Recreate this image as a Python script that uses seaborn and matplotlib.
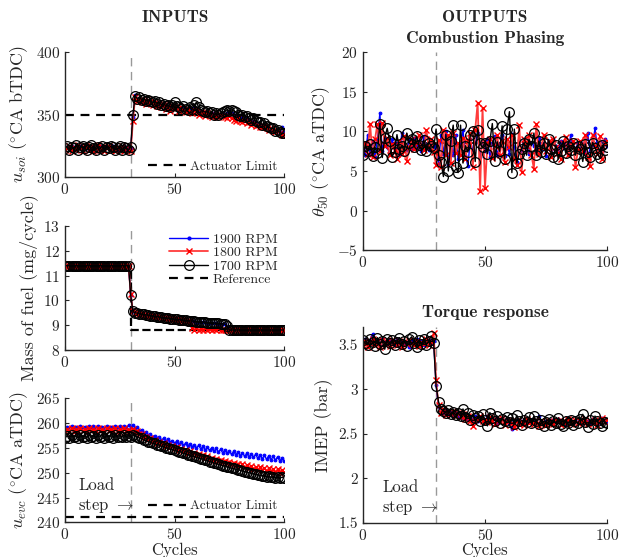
import numpy as np
import matplotlib
matplotlib.use("Agg")
import matplotlib.pyplot as plt
import seaborn as sns
from matplotlib.lines import Line2D

# cycles 0..100, load step at cycle 30
cycles = list(range(101))
load_step = 30

##### u_soi (deg CA bTDC)
soi_1700 = [323,325,322,324,323,326,322,324,325,323,
            322,324,326,323,322,324,323,325,322,324,
            323,325,324,322,323,325,322,324,323,322,
            324,350,365,363,364,362,363,361,362,361,
            360,361,359,360,358,359,357,358,356,358,
            360,357,356,355,357,355,354,356,355,358,
            360,356,354,353,352,353,351,352,350,351,
            350,351,352,353,354,353,354,353,352,350,
            349,350,348,349,347,346,347,345,344,344,
            342,343,341,340,339,339,337,338,336,335,335]
soi_1800 = [322,323,325,321,324,322,326,323,321,325,
            324,322,325,321,323,326,322,324,321,323,
            325,322,323,321,324,322,325,321,323,322,
            321,345,364,361,362,360,361,359,362,360,
            358,360,357,359,356,358,355,357,353,356,
            355,357,353,356,354,352,355,353,351,354,
            353,350,352,351,349,351,350,348,350,349,
            348,350,349,348,347,349,347,346,345,347,
            345,344,346,343,344,342,343,341,342,340,
            340,341,339,338,339,337,336,337,335,334,334]
soi_1900 = [323,324,323,325,322,324,323,325,323,324,
            323,325,322,324,323,324,322,325,323,324,
            324,323,325,323,322,324,323,325,322,323,
            323,348,366,362,363,361,362,360,361,360,
            359,360,358,359,357,358,356,357,355,357,
            356,356,354,355,356,354,353,355,353,356,
            355,353,353,352,351,352,350,351,349,350,
            349,350,351,350,351,352,351,350,349,348,
            347,348,346,347,345,345,344,343,342,342,
            341,341,340,339,338,338,337,337,336,340,336]
soi_limit = 350

##### mass of fuel (mg/cycle)
fuel_1700 = [11.4]*30 + [
    10.2, 9.55, 9.5, 9.48, 9.46, 9.44, 9.43, 9.41, 9.40, 9.38,
    9.37, 9.35, 9.34, 9.33, 9.31, 9.30, 9.29, 9.28, 9.26, 9.25,
    9.24, 9.23, 9.22, 9.21, 9.20, 9.19, 9.18, 9.17, 9.16, 9.15,
    9.14, 9.13, 9.13, 9.12, 9.11, 9.10, 9.09, 9.09, 9.08, 9.07,
    9.07, 9.06, 9.05, 9.04, 8.95] + [8.8]*26
fuel_1800 = [11.4]*30 + [
    10.25, 9.55, 9.5, 9.48, 9.46, 9.44, 9.42, 9.41, 9.39, 9.38,
    9.36, 9.35, 9.34, 9.32, 9.31, 9.30, 9.29, 9.27, 9.26, 9.25,
    9.24, 9.23, 9.22, 9.21, 9.20, 9.19, 9.18, 9.17, 8.88, 8.82,
    8.90, 8.80, 8.85, 8.82, 8.90, 8.80, 8.86, 8.81, 8.84, 8.80,
    8.87, 8.82, 8.80, 8.80, 8.80] + [8.8]*26
fuel_1900 = [11.4]*30 + [
    10.2, 9.56, 9.5, 9.48, 9.46, 9.44, 9.42, 9.41, 9.40, 9.38,
    9.37, 9.35, 9.34, 9.32, 9.31, 9.30, 9.29, 9.28, 9.26, 9.25,
    9.24, 9.23, 9.22, 9.21, 9.20, 9.19, 9.18, 9.17, 9.16, 9.15,
    9.02, 9.13, 9.12, 9.12, 9.11, 9.10, 9.09, 9.08, 9.08, 9.07,
    9.06, 9.06, 9.05, 9.03, 8.93] + [8.8]*26
fuel_ref_x = [0, 30, 30, 100]
fuel_ref_y = [11.4, 11.4, 8.8, 8.8]

##### u_evc (deg CA aTDC)
evc_1700 = [257.0,257.5,257.1,257.6,257.2,257.5,257.0,257.6,257.2,257.4,
            257.1,257.6,257.2,257.5,257.1,257.6,257.3,257.5,257.1,257.6,
            257.2,257.5,257.1,257.7,257.3,257.5,257.2,257.6,257.3,257.5,
            257.2,257.7,257.4,257.3,257.0,256.9,256.6,256.5,256.2,256.2,
            255.9,255.9,255.6,255.6,255.3,255.3,255.0,255.0,254.7,254.7,
            254.5,254.4,254.2,254.2,253.9,253.9,253.6,253.6,253.3,253.3,
            253.1,253.0,252.8,252.8,252.5,252.5,252.2,252.2,251.9,251.9,
            251.7,251.6,251.4,251.4,251.2,251.1,250.9,250.9,250.7,250.6,
            250.5,250.4,250.2,250.2,250.0,249.9,249.8,249.7,249.6,249.5,
            249.4,249.4,249.2,249.3,249.1,249.2,249.0,249.1,248.9,249.1,249.0]
evc_1800 = [258.2,258.8,258.4,259.0,258.3,258.9,258.5,259.1,258.4,258.8,
            258.3,259.0,258.5,258.9,258.4,259.1,258.5,258.8,258.3,259.0,
            258.4,258.9,258.5,259.0,258.3,258.8,258.4,259.0,258.5,258.7,
            258.4,258.9,258.3,258.4,257.8,257.8,257.3,257.3,256.8,256.9,
            256.4,256.5,256.0,256.2,255.7,255.9,255.4,255.6,255.1,255.3,
            254.9,255.1,254.6,254.8,254.3,254.5,254.0,254.3,253.8,254.0,
            253.5,253.8,253.3,253.5,253.0,253.3,252.8,253.0,252.5,252.8,
            252.3,252.6,252.1,252.4,251.9,252.2,251.7,252.0,251.5,251.8,
            251.3,251.7,251.1,251.5,250.9,251.4,250.8,251.2,250.6,251.1,
            250.5,251.0,250.3,250.9,250.2,250.8,250.1,250.7,250.0,250.6,250.2]
evc_1900 = [258.8,259.3,258.9,259.4,258.8,259.3,258.9,259.5,258.9,259.3,
            258.8,259.4,258.9,259.4,258.8,259.5,259.0,259.3,258.9,259.4,
            258.9,259.3,258.8,259.5,259.0,259.4,258.9,259.4,259.0,259.6,
            259.1,259.6,259.0,259.2,258.5,258.6,258.0,258.2,257.6,257.8,
            257.2,257.5,256.9,257.2,256.6,256.9,256.3,256.7,256.1,256.4,
            255.9,256.3,255.7,256.1,255.5,255.9,255.3,255.8,255.2,255.6,
            255.0,255.5,254.8,255.3,254.6,255.1,254.5,255.0,254.3,254.9,
            254.2,254.7,254.0,254.6,253.9,254.4,253.7,254.3,253.6,254.2,
            253.4,254.0,253.3,253.9,253.2,253.8,253.1,253.7,252.9,253.6,
            252.8,253.5,252.7,253.4,252.6,253.3,252.5,253.2,252.4,252.9,252.3]
evc_limit = 241

##### theta_50 (deg CA aTDC)
ca50_1700 = [7.0,8.2,7.5,8.4,6.9,8.0,7.3,11.0,6.7,9.2,
             10.4,8.8,6.8,7.4,9.6,7.8,8.2,7.5,9.8,8.6,
             9.1,8.0,9.4,8.3,7.7,8.9,7.5,8.6,8.2,7.9,
             10.3,7.0,6.1,4.3,9.6,5.0,8.8,10.8,5.5,4.8,
             10.8,6.0,8.2,7.4,9.5,10.0,6.2,10.2,8.5,8.0,
             8.6,7.2,8.8,11.0,6.3,8.7,7.5,10.7,6.5,10.3,
             12.5,4.8,10.3,6.0,7.2,7.8,8.6,7.0,9.0,8.2,
             9.8,7.0,8.8,7.4,8.5,7.2,9.0,7.8,6.8,8.3,
             6.5,7.5,8.8,7.3,8.2,7.6,8.5,7.0,8.1,7.8,
             6.2,8.4,7.4,6.8,8.6,7.9,7.2,6.6,8.3,7.7,8.0]
ca50_1800 = [7.8,8.5,7.2,11.0,6.8,9.0,10.9,7.5,11.1,8.2,
             9.2,7.0,8.4,7.6,6.5,8.8,7.2,9.4,6.3,8.0,
             9.0,7.8,8.6,9.6,8.2,7.6,10.2,8.0,9.0,7.4,
             5.8,8.9,5.5,10.2,7.0,9.5,6.0,9.8,7.3,8.5,
             7.0,9.2,6.5,8.8,9.8,5.5,10.2,13.6,2.5,13.0,
             2.9,8.5,9.0,6.6,8.2,9.5,7.0,8.8,6.2,9.0,
             8.0,9.5,6.5,5.8,10.8,4.9,9.0,8.2,9.5,7.0,
             5.3,10.9,7.2,8.0,9.6,7.5,8.8,6.8,9.1,8.0,
             7.3,6.5,8.5,9.3,7.0,8.1,8.8,5.5,7.6,8.8,
             7.5,9.6,6.8,5.6,9.6,8.2,7.2,9.4,6.5,8.5,8.8]
ca50_1900 = [8.5,7.0,9.5,7.2,8.8,6.8,9.0,12.3,7.5,9.2,
             8.0,7.2,9.0,7.8,8.6,7.0,9.8,8.2,7.6,8.9,
             7.8,9.2,8.0,8.8,7.5,9.4,8.1,7.7,8.5,8.0,
             8.3,6.0,9.5,7.2,10.0,5.8,8.8,7.0,9.6,6.5,
             8.2,10.2,7.0,5.6,9.0,7.6,8.5,9.8,6.8,8.8,
             7.5,9.0,6.8,8.5,9.4,7.0,8.2,9.6,6.9,8.3,
             7.2,9.7,8.0,6.2,8.9,7.5,9.0,8.0,7.2,8.6,
             8.2,7.5,9.2,7.8,8.5,6.9,8.8,7.6,9.0,8.2,
             7.4,8.8,7.9,8.4,7.2,9.5,8.0,7.6,8.6,7.8,
             8.5,7.3,9.8,7.5,8.3,10.4,7.8,8.8,7.4,9.0,8.2]
ca50_ref = 8.5

##### IMEP (bar)
imep_1700 = [3.55,3.52,3.50,3.56,3.53,3.49,3.58,3.51,3.54,3.45,
             3.57,3.52,3.55,3.50,3.53,3.58,3.51,3.54,3.49,3.56,
             3.59,3.52,3.47,3.55,3.51,3.57,3.50,3.54,3.60,3.52,
             3.04,2.86,2.78,2.76,2.74,2.77,2.72,2.75,2.71,2.74,
             2.70,2.78,2.69,2.73,2.66,2.71,2.68,2.70,2.64,2.72,
             2.66,2.59,2.74,2.68,2.65,2.70,2.62,2.67,2.64,2.69,
             2.63,2.68,2.61,2.71,2.65,2.60,2.66,2.63,2.69,2.62,
             2.70,2.64,2.61,2.66,2.59,2.63,2.67,2.60,2.64,2.62,
             2.68,2.61,2.59,2.65,2.62,2.66,2.60,2.64,2.62,2.67,
             2.72,2.63,2.58,2.66,2.61,2.70,2.64,2.62,2.59,2.63,2.62]
imep_1800 = [3.50,3.54,3.48,3.52,3.56,3.50,3.53,3.47,3.55,3.51,
             3.53,3.49,3.55,3.52,3.50,3.54,3.48,3.53,3.51,3.55,
             3.52,3.50,3.54,3.49,3.53,3.51,3.56,3.50,3.53,3.63,
             3.10,2.82,2.74,2.78,2.71,2.75,2.72,2.76,2.70,2.73,
             2.69,2.72,2.67,2.70,2.65,2.59,2.68,2.66,2.70,2.64,
             2.67,2.63,2.69,2.65,2.61,2.66,2.63,2.68,2.60,2.64,
             2.66,2.62,2.58,2.65,2.61,2.64,2.60,2.67,2.62,2.65,
             2.61,2.66,2.59,2.64,2.62,2.60,2.65,2.63,2.61,2.66,
             2.63,2.60,2.65,2.62,2.67,2.61,2.64,2.66,2.62,2.65,
             2.63,2.67,2.61,2.64,2.62,2.66,2.60,2.65,2.68,2.63,2.66]
imep_1900 = [3.53,3.56,3.51,3.55,3.62,3.52,3.54,3.50,3.56,3.53,
             3.51,3.55,3.53,3.50,3.56,3.52,3.54,3.51,3.53,3.47,
             3.55,3.52,3.56,3.51,3.54,3.50,3.53,3.55,3.52,3.54,
             3.05,2.80,2.76,2.74,2.77,2.72,2.75,2.71,2.73,2.70,
             2.72,2.68,2.71,2.67,2.69,2.66,2.70,2.65,2.68,2.66,
             2.64,2.70,2.66,2.63,2.67,2.62,2.65,2.68,2.63,2.66,
             2.62,2.55,2.64,2.66,2.62,2.65,2.61,2.64,2.66,2.63,
             2.66,2.62,2.70,2.64,2.61,2.65,2.63,2.66,2.62,2.64,
             2.67,2.63,2.65,2.61,2.68,2.64,2.62,2.66,2.63,2.65,
             2.62,2.66,2.64,2.61,2.67,2.63,2.65,2.62,2.68,2.64,2.63]
imep_ticks = [1.5, 2, 2.5, 3, 3.5]
imep_ticklabels = ['1.5', '2', '2.5', '3', '3.5']

sns.set_style("ticks")
plt.rcParams['font.family'] = ['cmr10']
plt.rcParams['mathtext.fontset'] = 'cm'
plt.rcParams['axes.formatter.use_mathtext'] = True
plt.rcParams['xtick.direction'] = 'in'
plt.rcParams['ytick.direction'] = 'in'
plt.rcParams['axes.linewidth'] = 1.0

fig = plt.figure(figsize=(6.19, 5.57), dpi=100)

L, LW = 0.105, 0.354
R, RW = 0.586, 0.395
ax1 = fig.add_axes([L, 0.682, LW, 0.224])
ax2 = fig.add_axes([L, 0.372, LW, 0.222])
ax3 = fig.add_axes([L, 0.062, LW, 0.223])
ax4 = fig.add_axes([R, 0.551, RW, 0.355])
ax5 = fig.add_axes([R, 0.061, RW, 0.352])

styles = {
    '1900 RPM': dict(color='blue', marker='.', markersize=4, linewidth=1.0,
                     markeredgecolor='blue'),
    '1800 RPM': dict(color='#ff3c3c', marker='x', markersize=5, linewidth=1.3,
                     markeredgecolor='red', markeredgewidth=1.0),
    '1700 RPM': dict(color='black', marker='o', markersize=7, linewidth=1.0,
                     markerfacecolor='none', markeredgecolor='black',
                     markeredgewidth=0.9),
}
limit_style = dict(color='black', linestyle='--', linewidth=1.6, dashes=(4, 3))

def draw(ax, s1900, s1800, s1700):
    for lab, vals in [('1900 RPM', s1900), ('1800 RPM', s1800), ('1700 RPM', s1700)]:
        sns.lineplot(x=cycles, y=vals, ax=ax, label=lab, estimator=None,
                     legend=False, **styles[lab])
    ax.axvline(load_step, color='0.6', linestyle='--', linewidth=1.0, zorder=0,
               dashes=(6, 4))
    ax.set_xlim(0, 100)
    ax.set_xticks([0, 50, 100])
    sns.despine(ax=ax)
    ax.tick_params(labelsize=11, length=3)

draw(ax1, soi_1900, soi_1800, soi_1700)
ax1.axhline(soi_limit, zorder=1, **limit_style)
ax1.set_ylim(300, 400)
ax1.set_yticks([300, 350, 400])
ax1.set_ylabel(r'$u_{soi}\ (^{\circ}\mathrm{CA\ bTDC})$', fontsize=13, labelpad=4)
ax1.legend(handles=[Line2D([], [], **limit_style)], labels=['Actuator Limit'],
           loc='lower right', bbox_to_anchor=(1.0, -0.02), frameon=False,
           fontsize=9.5, handlelength=2.9, handletextpad=0.3, borderaxespad=0.1)

draw(ax2, fuel_1900, fuel_1800, fuel_1700)
sns.lineplot(x=fuel_ref_x, y=fuel_ref_y, ax=ax2, sort=False, estimator=None,
             zorder=1, **limit_style)
ax2.set_ylim(8, 13)
ax2.set_yticks([8, 9, 10, 11, 12, 13])
ax2.set_ylabel('Mass of fuel (mg/cycle)', fontsize=13, labelpad=4)
h = [Line2D([], [], **styles[k]) for k in ['1900 RPM', '1800 RPM', '1700 RPM']]
h.append(Line2D([], [], **limit_style))
ax2.legend(handles=h, labels=['1900 RPM', '1800 RPM', '1700 RPM', 'Reference'],
           loc='upper right', bbox_to_anchor=(1.0, 1.0), frameon=False,
           fontsize=10, handlelength=2.8, labelspacing=0.05, borderaxespad=0.1,
           handletextpad=0.3)

draw(ax3, evc_1900, evc_1800, evc_1700)
ax3.axhline(evc_limit, zorder=1, **limit_style)
ax3.set_ylim(240, 265)
ax3.set_yticks([240, 245, 250, 255, 260, 265])
ax3.set_ylabel(r'$u_{evc}\ (^{\circ}\mathrm{CA\ aTDC})$', fontsize=13, labelpad=4)
ax3.set_xlabel('Cycles', fontsize=12, labelpad=0)
ax3.legend(handles=[Line2D([], [], **limit_style)], labels=['Actuator Limit'],
           loc='lower right', bbox_to_anchor=(1.0, 0.03), frameon=False,
           fontsize=9.5, handlelength=2.9, handletextpad=0.3, borderaxespad=0.1)
ax3.text(6, 245.2, 'Load\nstep $\\rightarrow$', fontsize=12, va='center', ha='left',
         linespacing=1.3)

draw(ax4, ca50_1900, ca50_1800, ca50_1700)
ax4.axhline(ca50_ref, color='black', linestyle='--', linewidth=1.2, zorder=1)
ax4.set_ylim(-5, 20)
ax4.set_yticks([-5, 0, 5, 10, 15, 20])
ax4.set_ylabel(r'$\theta_{50}\ (^{\circ}\mathrm{CA\ aTDC})$', fontsize=13, labelpad=4)
ax4.set_title('Combustion Phasing', fontsize=12.5, family='cmb10', pad=7)

draw(ax5, imep_1900, imep_1800, imep_1700)
ax5.set_ylim(1.5, 3.7)
ax5.set_yticks(imep_ticks)
ax5.set_yticklabels(imep_ticklabels)
ax5.set_ylabel('IMEP (bar)', fontsize=13, labelpad=4)
ax5.set_xlabel('Cycles', fontsize=12, labelpad=0)
ax5.set_title('Torque response', fontsize=12.5, family='cmb10', pad=7)
ax5.text(8, 1.78, 'Load\nstep $\\rightarrow$', fontsize=12, va='center', ha='left',
         linespacing=1.3)

fig.text(0.283, 0.968, 'INPUTS', fontsize=12.5, family='cmb10', ha='center', va='center')
fig.text(0.783, 0.968, 'OUTPUTS', fontsize=12.5, family='cmb10', ha='center', va='center')

fig.savefig('out.png', dpi=100)
